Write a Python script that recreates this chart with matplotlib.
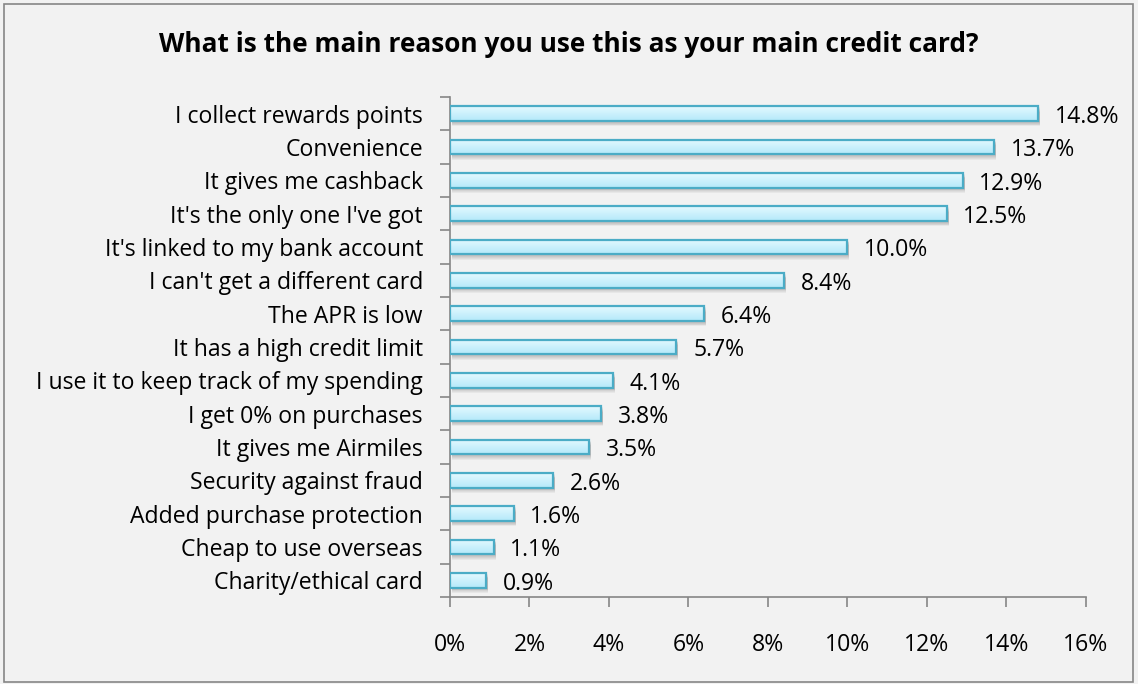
import matplotlib
matplotlib.use("Agg")
import matplotlib.pyplot as plt
import numpy as np
from matplotlib.patches import Rectangle
from matplotlib.colors import LinearSegmentedColormap

categories = [
    "I collect rewards points",
    "Convenience",
    "It gives me cashback",
    "It's the only one I've got",
    "It's linked to my bank account",
    "I can't get a different card",
    "The APR is low",
    "It has a high credit limit",
    "I use it to keep track of my spending",
    "I get 0% on purchases",
    "It gives me Airmiles",
    "Security against fraud",
    "Added purchase protection",
    "Cheap to use overseas",
    "Charity/ethical card",
]
values = [14.8, 13.7, 12.9, 12.5, 10.0, 8.4, 6.4, 5.7, 4.1, 3.8, 3.5, 2.6, 1.6, 1.1, 0.9]
x_ticks = [0, 2, 4, 6, 8, 10, 12, 14, 16]
title = "What is the main reason you use this as your main credit card?"

plt.rcParams["font.family"] = ["Open Sans", "DejaVu Sans"]

W, H = 1138, 684
fig = plt.figure(figsize=(W / 100, H / 100), dpi=100)
fig.patch.set_facecolor("#f2f2f2")

# outer frame
fig.patches.append(Rectangle((4 / W, 1 - 682 / H), 1129 / W, 678 / H,
                             transform=fig.transFigure, fill=False,
                             edgecolor="#868686", linewidth=1.2))

ax = fig.add_axes([450 / W, 1 - 597 / H, (1085.7 - 450) / W, (597 - 97) / H])
ax.set_facecolor("#f2f2f2")

n = len(categories)
y = np.arange(n)
bar_h = 0.44
FS = 16.6

# soft drop shadow under each bar
for k in range(6):
    off = 0.03 + k * 0.025
    ax.barh(y + off, values, height=bar_h, left=0.05, color="#000000",
            alpha=0.045, linewidth=0, zorder=1)

bars = ax.barh(y, values, height=bar_h, color="#c8f0fc",
               edgecolor="#4bacc6", linewidth=1.6, zorder=3)

# vertical gradient fill inside each bar
grad = np.linspace(0, 1, 64).reshape(-1, 1)
cmap = LinearSegmentedColormap.from_list("barfill", ["#e4f9ff", "#b4e9fa"])
for b, v, yy in zip(bars, values, y):
    im = ax.imshow(grad, cmap=cmap, aspect="auto",
                   extent=(0, v, yy + bar_h / 2, yy - bar_h / 2),
                   zorder=2.5, interpolation="bicubic")
    im.set_clip_path(b)
    b.set_facecolor("none")
ax.set_xlim(0, 16)
ax.set_ylim(n - 0.5, -0.5)

for v, yy in zip(values, y):
    ax.text(v + 0.42, yy + 0.1, f"{v:.1f}%", va="center", ha="left",
            fontsize=FS, color="#000000")

ax.set_yticks(y)
ax.set_yticklabels(categories, fontsize=FS)
ax.set_yticks(np.arange(n + 1) - 0.5, minor=True)
ax.tick_params(axis="y", which="major", length=0, pad=19.5)
ax.tick_params(axis="y", which="minor", length=7, width=1.2, color="#868686")

ax.set_xticks(x_ticks)
ax.set_xticklabels([f"{t}%" for t in x_ticks], fontsize=FS)
ax.tick_params(axis="x", length=7, width=1.2, color="#868686", pad=19)

for s in ["top", "right"]:
    ax.spines[s].set_visible(False)
for s in ["left", "bottom"]:
    ax.spines[s].set_color("#868686")
    ax.spines[s].set_linewidth(1.2)

fig.text(0.5, 1 - 45 / H, title, ha="center", va="center",
         fontsize=18.9, fontweight="bold")

fig.savefig("out.png", dpi=100, facecolor=fig.get_facecolor())
